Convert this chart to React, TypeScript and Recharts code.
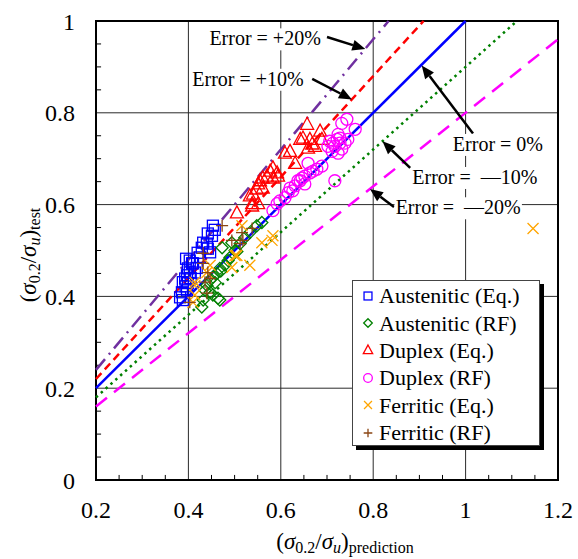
import React from 'react'
import {
  ScatterChart,
  Scatter,
  XAxis,
  YAxis,
  CartesianGrid,
  ReferenceLine,
  ReferenceDot,
  ReferenceArea,
  Legend,
  Label,
} from 'recharts'

type Pt = [number, number]

// axis ticks
const xTicks = [0.2, 0.4, 0.6, 0.8, 1, 1.2]
const yTicks = [0, 0.2, 0.4, 0.6, 0.8, 1]
const xMinorTicks = [0.25, 0.3, 0.35, 0.45, 0.5, 0.55, 0.65, 0.7, 0.75, 0.85, 0.9, 0.95, 1.05, 1.1, 1.15]
const yMinorTicks = [0.05, 0.1, 0.15, 0.25, 0.3, 0.35, 0.45, 0.5, 0.55, 0.65, 0.7, 0.75, 0.85, 0.9, 0.95]

// test vs prediction
const austeniticEq: Pt[] = [
  [0.453, 0.554], [0.457, 0.545], [0.451, 0.532], [0.442, 0.537], [0.44, 0.515], [0.432, 0.517],
  [0.442, 0.504], [0.447, 0.496], [0.429, 0.506], [0.425, 0.485], [0.42, 0.495], [0.403, 0.478],
  [0.408, 0.472], [0.41, 0.472], [0.395, 0.482], [0.418, 0.462], [0.399, 0.461], [0.403, 0.452],
  [0.414, 0.452], [0.397, 0.446], [0.405, 0.44], [0.393, 0.439], [0.388, 0.431], [0.399, 0.429],
  [0.394, 0.422], [0.397, 0.413], [0.386, 0.409], [0.382, 0.398], [0.388, 0.392],
]
const austeniticRF: Pt[] = [
  [0.473, 0.506], [0.494, 0.517], [0.501, 0.5], [0.522, 0.528], [0.533, 0.539], [0.548, 0.554],
  [0.559, 0.561], [0.512, 0.515], [0.505, 0.498], [0.49, 0.485], [0.486, 0.478], [0.479, 0.468],
  [0.47, 0.455], [0.468, 0.461], [0.462, 0.45], [0.453, 0.442], [0.458, 0.43], [0.447, 0.435],
  [0.44, 0.424], [0.436, 0.413], [0.447, 0.409], [0.453, 0.403], [0.464, 0.396], [0.468, 0.392],
  [0.432, 0.392], [0.429, 0.377],
]
const duplexEq: Pt[] = [
  [0.657, 0.775], [0.685, 0.76], [0.648, 0.745], [0.642, 0.742], [0.663, 0.742], [0.689, 0.742],
  [0.668, 0.732], [0.674, 0.727], [0.659, 0.723], [0.62, 0.716], [0.609, 0.712], [0.631, 0.69],
  [0.583, 0.68], [0.577, 0.673], [0.592, 0.669], [0.57, 0.662], [0.594, 0.662], [0.561, 0.658],
  [0.583, 0.658], [0.555, 0.652], [0.551, 0.645], [0.561, 0.636], [0.548, 0.634], [0.54, 0.623],
  [0.533, 0.619], [0.538, 0.602], [0.551, 0.602], [0.538, 0.597], [0.505, 0.582],
]
const duplexRF: Pt[] = [
  [0.743, 0.786], [0.732, 0.777], [0.761, 0.764], [0.724, 0.753], [0.728, 0.745], [0.722, 0.742],
  [0.745, 0.742], [0.706, 0.738], [0.713, 0.734], [0.728, 0.734], [0.739, 0.734], [0.702, 0.727],
  [0.717, 0.727], [0.732, 0.721], [0.711, 0.716], [0.724, 0.712], [0.659, 0.69], [0.689, 0.684],
  [0.678, 0.677], [0.67, 0.673], [0.663, 0.669], [0.652, 0.662], [0.646, 0.658], [0.637, 0.652],
  [0.642, 0.652], [0.652, 0.645], [0.631, 0.641], [0.62, 0.636], [0.626, 0.63], [0.616, 0.626],
  [0.609, 0.615], [0.598, 0.608], [0.592, 0.602], [0.583, 0.587], [0.717, 0.652],
]
const ferriticEq: Pt[] = [
  [0.516, 0.554], [0.583, 0.532], [0.581, 0.522], [0.559, 0.517], [0.505, 0.489], [0.501, 0.489],
  [0.533, 0.468], [0.494, 0.463], [0.447, 0.468], [0.44, 0.452], [0.414, 0.431], [0.414, 0.424],
  [0.414, 0.403], [0.41, 0.387], [1.146, 0.548],
]
const ferriticRF: Pt[] = [
  [0.473, 0.554], [0.538, 0.548], [0.516, 0.539], [0.518, 0.522], [0.494, 0.522], [0.512, 0.515],
  [0.432, 0.494], [0.432, 0.472], [0.442, 0.452], [0.447, 0.439], [0.436, 0.431], [0.44, 0.407],
  [0.403, 0.387],
]

// error bands: y = (1 + e) x
const errorNames = ['+20%', '+10%', '0%', '-10%', '-20%']
const errorStart: Pt[] = [[0.2, 0.24], [0.2, 0.22], [0.2, 0.2], [0.2, 0.18], [0.2, 0.16]]
const errorEnd: Pt[] = [[0.8333, 1], [0.9091, 1], [1, 1], [1.1111, 1], [1.2, 0.96]]

// annotation labels and arrows
const annoText = ['Error = +20%', 'Error = +10%', 'Error = 0%', 'Error =\u00A0 \u201410%', 'Error =\u00A0 \u201420%']
const annoAt: Pt[] = [[0.566, 0.96], [0.529, 0.872], [1.07, 0.73], [1.02, 0.658], [0.984, 0.592]]
const arrowFrom: Pt[] = [[0.7, 0.965], [0.668, 0.874], [1.016, 0.755], [0.88, 0.68], [0.845, 0.595]]
const arrowTo: Pt[] = [[0.783, 0.939], [0.754, 0.829], [0.905, 0.903], [0.82, 0.738], [0.793, 0.634]]

const FONT = '"Liberation Serif", "Times New Roman", serif'

const lineStyles = [
  { stroke: '#7030A0', dash: '14 6 2 6' },
  { stroke: '#FF0000', dash: '8 5' },
  { stroke: '#0000FF', dash: undefined },
  { stroke: '#008000', dash: '2.5 4' },
  { stroke: '#FF00FF', dash: '14 9' },
]

type MarkerKind = 'square' | 'diamond' | 'triangle' | 'circle' | 'cross' | 'plus'

function Marker({ kind, cx, cy, color, s = 1 }: { kind: MarkerKind; cx: number; cy: number; color: string; s?: number }) {
  const sw = 1.3
  switch (kind) {
    case 'square':
      return <rect x={cx - 5.5 * s} y={cy - 5.5 * s} width={11 * s} height={11 * s} fill="none" stroke={color} strokeWidth={sw} />
    case 'diamond':
      return (
        <polygon
          points={`${cx},${cy - 6 * s} ${cx + 6 * s},${cy} ${cx},${cy + 6 * s} ${cx - 6 * s},${cy}`}
          fill="none" stroke={color} strokeWidth={sw}
        />
      )
    case 'triangle':
      return (
        <polygon
          points={`${cx},${cy - 7 * s} ${cx + 6.5 * s},${cy + 5 * s} ${cx - 6.5 * s},${cy + 5 * s}`}
          fill="none" stroke={color} strokeWidth={sw}
        />
      )
    case 'circle':
      return <circle cx={cx} cy={cy} r={6 * s} fill="none" stroke={color} strokeWidth={sw} />
    case 'cross':
      return (
        <path d={`M${cx - 5.5 * s},${cy - 5.5 * s}L${cx + 5.5 * s},${cy + 5.5 * s}M${cx - 5.5 * s},${cy + 5.5 * s}L${cx + 5.5 * s},${cy - 5.5 * s}`}
          stroke={color} strokeWidth={sw} />
      )
    default:
      return (
        <path d={`M${cx - 6 * s},${cy}L${cx + 6 * s},${cy}M${cx},${cy - 6 * s}L${cx},${cy + 6 * s}`}
          stroke={color} strokeWidth={sw} />
      )
  }
}

const series = [
  { name: 'Austenitic (Eq.)', data: austeniticEq, kind: 'square' as MarkerKind, color: '#0000FF' },
  { name: 'Austenitic (RF)', data: austeniticRF, kind: 'diamond' as MarkerKind, color: '#008000' },
  { name: 'Duplex (Eq.)', data: duplexEq, kind: 'triangle' as MarkerKind, color: '#FF0000' },
  { name: 'Duplex (RF)', data: duplexRF, kind: 'circle' as MarkerKind, color: '#FF00FF' },
  { name: 'Ferritic (Eq.)', data: ferriticEq, kind: 'cross' as MarkerKind, color: '#FFA500' },
  { name: 'Ferritic (RF)', data: ferriticRF, kind: 'plus' as MarkerKind, color: '#8B4513' },
]

function Arrow(props: any) {
  const { x1, y1, x2, y2 } = props
  const a = Math.atan2(y2 - y1, x2 - x1)
  const L = 13
  const W = 5.5
  const bx = x2 - L * Math.cos(a)
  const by = y2 - L * Math.sin(a)
  const s = Math.sin(a)
  const c = Math.cos(a)
  return (
    <g>
      <line x1={x1} y1={y1} x2={bx} y2={by} stroke="#000" strokeWidth={2.5} />
      <polygon points={`${x2},${y2} ${bx + W * s},${by - W * c} ${bx - W * s},${by + W * c}`} fill="#000" />
    </g>
  )
}

const annoShape = (text: string) => (props: any) => {
  const { cx, cy } = props
  const w = text.length * 9.8
  return (
    <g>
      <rect x={cx - w / 2} y={cy - 11} width={w} height={22} fill="#fff" />
      <text x={cx} y={cy + 6} textAnchor="middle" fontSize={20} fontFamily={FONT} fill="#000">
        {text}
      </text>
    </g>
  )
}

function XTitle(props: any) {
  const { viewBox } = props
  const cx = viewBox.x + viewBox.width / 2 + 18
  const y = viewBox.y + 69
  return (
    <text x={cx} y={y} textAnchor="middle" fontFamily={FONT} fontSize={23} fill="#000">
      <tspan>(</tspan>
      <tspan fontStyle="italic">σ</tspan>
      <tspan fontSize={16} dy={4}>0.2</tspan>
      <tspan dy={-4}>/</tspan>
      <tspan fontStyle="italic">σ</tspan>
      <tspan fontSize={16} fontStyle="italic" dy={4}>u</tspan>
      <tspan dy={-4}>)</tspan>
      <tspan fontSize={16} dy={4}>prediction</tspan>
    </text>
  )
}

function YTitle() {
  const cx = 36
  const cy = 255
  return (
    <text x={cx} y={cy} textAnchor="middle" fontFamily={FONT} fontSize={23} fill="#000" transform={`rotate(-90, ${cx}, ${cy})`}>
      <tspan>(</tspan>
      <tspan fontStyle="italic">σ</tspan>
      <tspan fontSize={16} dy={4}>0.2</tspan>
      <tspan dy={-4}>/</tspan>
      <tspan fontStyle="italic">σ</tspan>
      <tspan fontSize={16} fontStyle="italic" dy={4}>u</tspan>
      <tspan dy={-4}>)</tspan>
      <tspan fontSize={16} dy={4}>test</tspan>
    </text>
  )
}

function LegendBox() {
  return (
    <div
      style={{
        width: 188,
        height: 166,
        background: '#fff',
        border: '1px solid #444',
        boxShadow: '4px 4px 0 #000',
        fontFamily: FONT,
        fontSize: 22,
        color: '#000',
        boxSizing: 'border-box',
        paddingTop: 1,
      }}
    >
      {series.map((s) => (
        <div key={s.name} style={{ display: 'flex', alignItems: 'center', height: 27.4, whiteSpace: 'nowrap' }}>
          <svg width={26} height={20} style={{ flex: 'none' }}>
            <Marker kind={s.kind} cx={15} cy={10} color={s.color} s={0.72} />
          </svg>
          <span style={{ lineHeight: '27px' }}>{s.name}</span>
        </div>
      ))}
    </div>
  )
}

const fmt = (v: number) => String(Math.round(v * 10) / 10)

export default function App() {
  return (
    <div style={{ position: 'absolute', left: 0, top: 0, width: 578, height: 559, background: '#fff', fontFamily: FONT }}>
      <ScatterChart width={578} height={559} margin={{ top: 21, right: 20, bottom: 19, left: 0 }} style={{ fontFamily: FONT }}>
        <CartesianGrid stroke="#2a2a2a" strokeWidth={1} />
        <XAxis
          type="number"
          dataKey="x"
          domain={[0.2, 1.2]}
          ticks={xTicks}
          tickFormatter={fmt}
          allowDataOverflow
          height={60}
          tickLine={false}
          axisLine={false}
          tickSize={0}
          tickMargin={21}
          tick={{ fontSize: 24, fill: '#000', fontFamily: FONT }}
        >
          <Label content={<XTitle />} />
        </XAxis>
        <YAxis
          type="number"
          dataKey="y"
          domain={[0, 1]}
          ticks={yTicks}
          tickFormatter={fmt}
          allowDataOverflow
          width={96}
          tickLine={false}
          axisLine={false}
          tickSize={0}
          tickMargin={21}
          tick={{ fontSize: 24, fill: '#000', fontFamily: FONT }}
        >
          <Label content={<YTitle />} />
        </YAxis>
        {xMinorTicks.map((v) => (
          <ReferenceLine key={'xm' + v} segment={[{ x: v, y: 0 }, { x: v, y: 0.011 }]} stroke="#000" strokeWidth={1} />
        ))}
        {yMinorTicks.map((v) => (
          <ReferenceLine key={'ym' + v} segment={[{ x: 0.2, y: v }, { x: 0.211, y: v }]} stroke="#000" strokeWidth={1} />
        ))}
        {annoText.map((t, i) => (
          <ReferenceDot key={'at' + i} x={annoAt[i][0]} y={annoAt[i][1]} r={0} shape={annoShape(t)} />
        ))}
        {series.map((s) => (
          <Scatter
            key={s.name}
            name={s.name}
            data={s.data.map(([x, y]) => ({ x, y }))}
            isAnimationActive={false}
            shape={(p: any) => <Marker kind={s.kind} cx={p.cx} cy={p.cy} color={s.color} />}
          />
        ))}
        {errorNames.map((n, i) => (
          <ReferenceLine
            key={'err' + n}
            segment={[
              { x: errorStart[i][0], y: errorStart[i][1] },
              { x: errorEnd[i][0], y: errorEnd[i][1] },
            ]}
            stroke={lineStyles[i].stroke}
            strokeWidth={2.5}
            strokeDasharray={lineStyles[i].dash}
          />
        ))}
        {arrowFrom.map((f, i) => (
          <ReferenceLine
            key={'ar' + i}
            segment={[
              { x: f[0], y: f[1] },
              { x: arrowTo[i][0], y: arrowTo[i][1] },
            ]}
            shape={Arrow}
          />
        ))}
        <ReferenceArea x1={0.2} x2={1.2} y1={0} y2={1} fill="none" fillOpacity={0} stroke="#000" strokeWidth={2} />
        <Legend
          layout="horizontal"
          verticalAlign="middle"
          align="center"
          content={() => <LegendBox />}
          wrapperStyle={{ left: 352, top: 280, width: 192, height: 170 }}
        />
      </ScatterChart>
    </div>
  )
}
